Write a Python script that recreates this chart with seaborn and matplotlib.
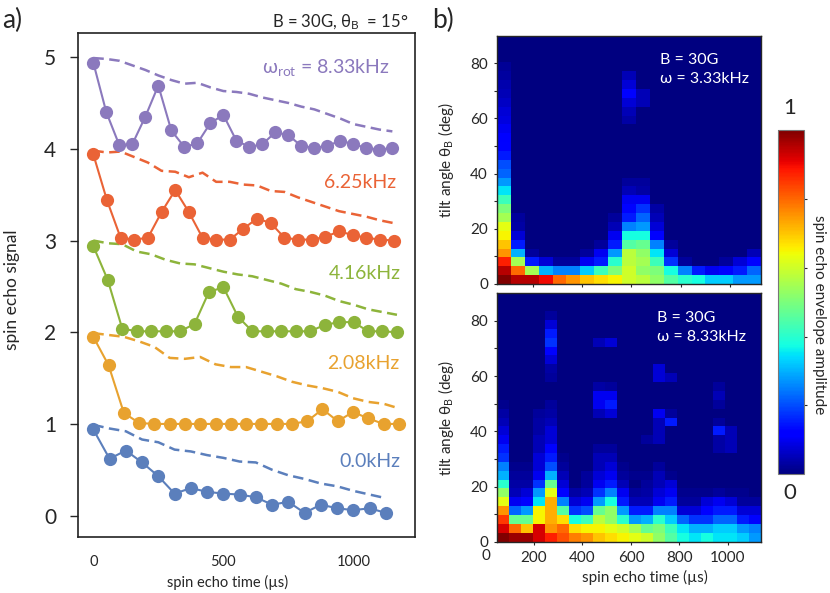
import numpy as np
import matplotlib
matplotlib.use("Agg")
import matplotlib.pyplot as plt
import seaborn as sns

# ---- panel a) spin echo signal vs time, one trace per rotation rate ----
t_blue = [0, 62.5, 125, 187.5, 250, 312.5, 375, 437.5, 500, 562.5, 625, 687.5,
          750, 812.5, 875, 937.5, 1000, 1062.5, 1125]
sig_blue = [0.94, 0.62, 0.71, 0.58, 0.43, 0.24, 0.30, 0.26, 0.24, 0.23, 0.20, 0.12,
            0.15, 0.03, 0.12, 0.08, 0.06, 0.08, 0.03]
env_blue = [0.99, 0.95, 0.92, 0.83, 0.80, 0.72, 0.70, 0.66, 0.63, 0.59, 0.58, 0.50,
            0.44, 0.40, 0.35, 0.32, 0.27, 0.23, 0.19]

t_orange = [0, 58.75, 117.5, 176.25, 235, 293.75, 352.5, 411.25, 470, 528.75, 587.5,
            646.25, 705, 763.75, 822.5, 881.25, 940, 998.75, 1057.5, 1116.25, 1175]
sig_orange = [1.95, 1.64, 1.12, 1.01, 1.00, 1.00, 1.00, 1.00, 1.00, 1.00, 1.00,
              1.00, 1.00, 1.00, 1.03, 1.16, 1.03, 1.13, 1.06, 1.00, 1.00]
env_orange = [1.99, 1.97, 1.95, 1.90, 1.84, 1.72, 1.71, 1.73, 1.65, 1.62, 1.62,
              1.57, 1.52, 1.46, 1.42, 1.39, 1.35, 1.28, 1.24, 1.22, 1.17]

t_green = [0, 55.6, 111.2, 166.8, 222.4, 278, 333.6, 389.2, 444.8, 500.4, 556,
           611.6, 667.2, 722.8, 778.4, 834, 889.6, 945.2, 1000.8, 1056.4, 1112, 1167.6]
sig_green = [2.94, 2.57, 2.04, 2.01, 2.01, 2.01, 2.01, 2.09, 2.44, 2.49, 2.17,
             2.01, 2.01, 2.01, 2.01, 2.01, 2.08, 2.11, 2.11, 2.01, 2.01, 2.00]
env_green = [3.00, 2.97, 2.96, 2.88, 2.85, 2.79, 2.75, 2.74, 2.70, 2.66, 2.63,
             2.61, 2.57, 2.53, 2.47, 2.44, 2.40, 2.34, 2.30, 2.25, 2.22, 2.19]

t_red = [0, 52.5, 105, 157.5, 210, 262.5, 315, 367.5, 420, 472.5, 525, 577.5,
         630, 682.5, 735, 787.5, 840, 892.5, 945, 997.5, 1050, 1102.5, 1155]
sig_red = [3.94, 3.44, 3.03, 3.01, 3.03, 3.31, 3.55, 3.31, 3.03, 3.01, 3.01, 3.13,
           3.24, 3.19, 3.03, 3.01, 3.01, 3.04, 3.10, 3.06, 3.03, 3.01, 3.00]
env_red = [3.98, 3.96, 3.97, 3.91, 3.85, 3.76, 3.75, 3.69, 3.74, 3.64, 3.64, 3.61,
           3.60, 3.54, 3.53, 3.47, 3.42, 3.37, 3.32, 3.29, 3.26, 3.22, 3.19]

t_purple = [0, 50, 100, 150, 200, 250, 300, 350, 400, 450, 500, 550, 600, 650,
            700, 750, 800, 850, 900, 950, 1000, 1050, 1100, 1150]
sig_purple = [4.94, 4.40, 4.04, 4.05, 4.35, 4.69, 4.20, 4.02, 4.06, 4.28, 4.37, 4.09,
              4.02, 4.05, 4.18, 4.15, 4.03, 4.01, 4.03, 4.09, 4.05, 4.01, 3.99, 4.01]
env_purple = [4.99, 4.98, 4.96, 4.91, 4.86, 4.80, 4.75, 4.71, 4.72, 4.67, 4.63, 4.62,
              4.60, 4.56, 4.53, 4.50, 4.46, 4.43, 4.38, 4.33, 4.27, 4.24, 4.21, 4.19]

rate_labels = ["0.0kHz", "2.08kHz", "4.16kHz", "6.25kHz",
               "\u03c9$_\\mathregular{rot}$ = 8.33kHz"]
rate_label_pos = [(1182, 0.59), (1177, 1.66), (1182, 2.64), (1163, 3.63), (1140, 4.89)]
colors = ["#5b7fbc", "#e8a22f", "#8db43b", "#ea6336", "#8b79bd"]

# ---- panel b) envelope amplitude maps (0..20 scale, rows from 0 deg upward) ----
amp_slow = [  # B = 30G, omega = 3.33kHz, 19 time bins
    [20, 19, 19, 18, 16, 15, 14, 13.5, 13, 12, 11.5, 10.5, 9, 8, 7.5, 6.5, 6.5, 5.5, 5.5],
    [19, 16, 11, 6, 5, 5, 6.5, 8.5, 10, 12, 10.5, 10, 7.5, 5, 3, 2, 2.5, 3, 4.5],
    [17.5, 11, 3, 1.5, .5, .5, 2, 3, 8, 11.5, 11, 8.5, 3.5, .5, 0, 0, .5, 1.5, 2.5],
    [15, 6, .5, 0, 0, 0, .5, 2, 5.5, 11.5, 10.5, 7, 1.5, 0, 0, 0, 0, 0, 1],
    [14, 3, 0, 0, 0, 0, 0, .5, 3, 9, 9.5, 5, .5, 0, 0, 0, 0, 0, 0],
    [13, 1.5, 0, 0, 0, 0, 0, 0, 2, 7.5, 7.5, 2.5, 0, 0, 0, 0, 0, 0, 0],
    [12.5, .7, 0, 0, 0, 0, 0, 0, 1, 5, 5.5, 1.5, 0, 0, 0, 0, 0, 0, 0],
    [11, .5, 0, 0, 0, 0, 0, 0, .5, 3, 4.5, 1, 0, 0, 0, 0, 0, 0, 0],
    [10, 0, 0, 0, 0, 0, 0, 0, 0, 2.5, 3.5, .7, 0, 0, 0, 0, 0, 0, 0],
    [8.5, 0, 0, 0, 0, 0, 0, 0, 0, 2, 2, 0, 0, 0, 0, 0, 0, 0, 0],
    [7, 0, 0, 0, 0, 0, 0, 0, 0, 1, .7, 0, 0, 0, 0, 0, 0, 0, 0],
    [5.5, 0, 0, 0, 0, 0, 0, 0, 0, .5, .5, 0, 0, 0, 0, 0, 0, 0, 0],
    [4.5, 0, 0, 0, 0, 0, 0, 0, 0, 0, 0, 0, 0, 0, 0, 0, 0, 0, 0],
    [4, 0, 0, 0, 0, 0, 0, 0, 0, 0, 0, 0, 0, 0, 0, 0, 0, 0, 0],
    [3, 0, 0, 0, 0, 0, 0, 0, 0, 0, 0, 0, 0, 0, 0, 0, 0, 0, 0],
    [2.5, 0, 0, 0, 0, 0, 0, 0, 0, 0, 0, 0, 0, 0, 0, 0, 0, 0, 0],
    [2.2, 0, 0, 0, 0, 0, 0, 0, 0, 0, 0, 0, 0, 0, 0, 0, 0, 0, 0],
    [2, 0, 0, 0, 0, 0, 0, 0, 0, 0, 0, 0, 0, 0, 0, 0, 0, 0, 0],
    [1.7, 0, 0, 0, 0, 0, 0, 0, 0, .7, 0, 0, 0, 0, 0, 0, 0, 0, 0],
    [1.5, 0, 0, 0, 0, 0, 0, 0, 0, 1, 0, 0, 0, 0, 0, 0, 0, 0, 0],
    [1.2, 0, 0, 0, 0, 0, 0, 0, 0, 1.5, 1, 0, 0, 0, 0, 0, 0, 0, 0],
    [1, 0, 0, 0, 0, 0, 0, 0, 0, 2.5, 1, 0, 0, 0, 0, 0, 0, 0, 0],
    [.8, 0, 0, 0, 0, 0, 0, 0, 0, 1.5, 0, 0, 0, 0, 0, 0, 0, 0, 0],
    [.6, 0, 0, 0, 0, 0, 0, 0, 0, 1, 0, 0, 0, 0, 0, 0, 0, 0, 0],
    [.4, 0, 0, 0, 0, 0, 0, 0, 0, 0, 0, 0, 0, 0, 0, 0, 0, 0, 0],
    [0, 0, 0, 0, 0, 0, 0, 0, 0, 0, 0, 0, 0, 0, 0, 0, 0, 0, 0],
    [0, 0, 0, 0, 0, 0, 0, 0, 0, 0, 0, 0, 0, 0, 0, 0, 0, 0, 0],
    [0, 0, 0, 0, 0, 0, 0, 0, 0, 0, 0, 0, 0, 0, 0, 0, 0, 0, 0],
]

amp_fast = [  # B = 30G, omega = 8.33kHz, 22 time bins
    [20, 19.5, 19.5, 18.5, 17.5, 16.5, 15.5, 15, 14, 13.5, 13, 12.5, 12, 10.5, 9, 7.5, 7, 7.5, 7, 7, 6.5, 5.5],
    [18.5, 16, 14, 18.5, 15, 16, 13.5, 13, 13, 12.5, 12, 11, 9.5, 10, 8.5, 7, 6, 6, 6.5, 6.5, 5.5, 5],
    [17, 9.5, 9.5, 13, 14.5, 13.5, 7.5, 8.5, 11.5, 10.5, 8, 5.5, 6, 8, 6.5, 4.5, 3.5, 3.5, 4.5, 4.5, 3, 2.5],
    [15, 4.5, 5.5, 13, 14.5, 9, 3.5, 4, 9.5, 10.5, 5.5, 3, 3, 5, 5, 1.5, 1.5, 2.5, 3, 3, 1.5, 1.5],
    [12.5, 2, 2.5, 7, 14.5, 5, 1.5, 2, 5.5, 7.5, 3, 1, 1, 2, 3, .5, .5, 1.5, 2, 1.5, .5, .5],
    [10.5, 1, 1.5, 5.5, 12.5, 2.5, .7, 1, 3.5, 5, 2, .5, .7, 1.5, 2, .3, .3, .3, .5, .3, .3, 0],
    [8, .7, .7, 3.5, 9.5, 1.5, 0, .5, 2, 3, 1, 0, .5, 1, 1.5, 0, 0, 0, 0, 0, 0, 0],
    [6, .5, .5, 2, 6, 1, 0, .5, 1.5, 2, .5, .3, .3, 1, .3, 0, 0, 0, 0, 0, 0, 0],
    [5, .3, .3, 1.5, 4, .5, 0, 0, 1, 1.5, .3, 0, 0, .5, 0, 0, 0, 0, 0, 0, 0, 0],
    [3.5, 0, 0, 1.5, 3, .3, 0, 0, 1, 1, 0, 0, 0, 0, 0, 0, 0, 0, 0, 0, 0, 0],
    [3, 0, 0, 1, 2.5, 0, 0, 0, .5, .5, 0, 0, 0, 0, 0, 0, 0, 0, .7, 1, 0, 0],
    [2, 0, 0, 1, 1.5, 0, 0, 0, 0, 0, 0, 0, .5, 1, 0, 0, 0, 0, .7, 1, 0, 0],
    [1.5, 0, 0, .7, 1.5, 0, 0, 0, 0, 0, 0, 0, 0, 1, 0, 0, 0, 0, 3, 1, 0, 0],
    [1, 0, 0, .7, 1, 0, 0, 0, 0, 0, 0, 0, 0, 1, 3, 0, 0, 0, .5, 0, 0, 0],
    [.7, 0, 0, .5, .7, 0, 0, 0, 1, 1.5, 0, 0, 0, 2, .5, 0, 0, 0, 0, 0, 0, 0],
    [.3, 0, 0, 0, .5, 0, 0, 0, 2, 3, 0, 0, 0, 0, 0, 0, 0, 0, .5, 0, 0, 0],
    [0, 0, 0, 0, 0, 0, 0, 0, 2, 2, 0, 0, 0, 0, 0, 0, 0, 0, 1, 0, 0, 0],
    [0, 0, 0, 0, 0, 0, 0, 0, .7, .5, 0, 0, 0, 0, 0, 0, 0, 0, .5, 0, 0, 0],
    [0, 0, 0, 0, .5, 0, 0, 0, 0, 0, 0, 0, 0, 1.5, 1, 0, 0, 0, 0, 0, 0, 0],
    [0, 0, 0, 0, .7, 0, 0, 0, 0, 0, 0, 0, 0, 1.5, 0, 0, 0, 0, 0, 0, 0, 0],
    [0, 0, 0, 0, 1.5, 0, 0, 0, 0, 0, 0, 0, 0, 0, 0, 0, 0, 0, 0, 0, 0, 0],
    [0, 0, 0, 0, 2.5, 0, 0, 0, 0, 0, 0, 0, 0, 0, 0, 0, 0, 0, 0, 0, 0, 0],
    [0, 0, 0, 0, 3.5, 0, 0, 0, 1, 1.5, 0, 0, 0, 0, 0, 0, 0, 0, 0, 0, 0, 0],
    [0, 0, 0, 0, 3, 0, 0, 0, 0, 0, 0, 0, 0, 0, 0, 0, 0, 0, 0, 0, 0, 0],
    [0, 0, 0, 0, 1.5, 0, 0, 0, 0, 0, 0, 0, 0, 0, 0, 0, 0, 0, 0, 0, 0, 0],
    [0, 0, 0, 0, .5, 0, 0, 0, 0, 0, 0, 0, 0, 0, 0, 0, 0, 0, 0, 0, 0, 0],
    [0, 0, 0, 0, 0, 0, 0, 0, 0, 0, 0, 0, 0, 0, 0, 0, 0, 0, 0, 0, 0, 0],
    [0, 0, 0, 0, 0, 0, 0, 0, 0, 0, 0, 0, 0, 0, 0, 0, 0, 0, 0, 0, 0, 0],
]
map_text = ["B = 30G\n\u03c9 = 3.33kHz", "B = 30G\n\u03c9 = 8.33kHz"]

sns.set_style("ticks")
plt.rcParams['font.family'] = ['Lato', 'DejaVu Sans']
plt.rcParams['mathtext.default'] = 'regular'

fig = plt.figure(figsize=(8.3, 5.93), dpi=100)

# ---------------- panel a ----------------
ax = fig.add_axes([0.0936, 0.0949, 0.4064, 0.849])
series = [(t_blue, sig_blue, env_blue), (t_orange, sig_orange, env_orange),
          (t_green, sig_green, env_green), (t_red, sig_red, env_red),
          (t_purple, sig_purple, env_purple)]
for (t, sig, env), c, lab, (lx, ly) in zip(series, colors, rate_labels, rate_label_pos):
    sns.lineplot(x=t, y=env, color=c, linewidth=1.8, ax=ax)
    ax.lines[-1].set_dashes([4.2, 2.2])
    sns.lineplot(x=t, y=sig, color=c, linewidth=1.5, marker='o', markersize=9.5,
                 markeredgewidth=0, ax=ax)
    ax.text(lx, ly, lab, color=c, fontsize=14, ha='right', va='center')

ax.set_xlim(-60, 1237)
ax.set_ylim(-0.23, 5.26)
ax.set_xticks([0, 500, 1000])
ax.set_yticks([0, 1, 2, 3, 4, 5])
ax.tick_params(axis='y', labelsize=15, length=5.5, width=1, pad=10)
ax.tick_params(axis='x', labelsize=10.5, length=0, pad=13)
for s in ax.spines.values():
    s.set_linewidth(1.2)
    s.set_color('#222222')
ax.set_xlabel("spin echo time (\u00b5s)", fontsize=10.5)
ax.xaxis.set_label_coords(0.445, -0.075)
ax.set_ylabel("spin echo signal", fontsize=12.5)
ax.yaxis.set_label_coords(-0.172, 0.49)

fig.text(0.002, 1 - 20 / 593, "a)", fontsize=19, ha='left', va='center')
fig.text(408 / 830, 1 - 22 / 593, "B = 30G, \u03b8$_\\mathregular{B}$  = 15\u00b0",
         fontsize=12, ha='right', va='center')
fig.text(432 / 830, 1 - 20 / 593, "b)", fontsize=19, ha='left', va='center')

# ---------------- panel b ----------------
ang_edges = np.linspace(0, 90, 29)
t_edges = [np.linspace(56.25, 1125, 20), np.linspace(47.5, 1136.5, 23)]
maps = [amp_slow, amp_fast]
boxes = [[0.5988, 0.5211, 0.3181, 0.4187], [0.5988, 0.0865, 0.3181, 0.4189]]
text_pos = [(0.617, 0.93), (0.605, 0.927)]

for i in range(2):
    hx = fig.add_axes(boxes[i])
    mesh = hx.pcolormesh(t_edges[i], ang_edges, np.array(maps[i]) / 20.0,
                         cmap='jet', vmin=0, vmax=1, shading='flat')
    hx.set_xlim(t_edges[i][0], t_edges[i][-1])
    hx.set_ylim(0, 90)
    hx.set_xticks([200, 400, 600, 800, 1000])
    hx.set_yticks([0, 20, 40, 60, 80])
    hx.set_yticks([10, 30, 50, 70], minor=True)
    hx.tick_params(which='both', direction='out', length=2.5, width=0.8,
                   labelsize=11, pad=4)
    for s in hx.spines.values():
        s.set_linewidth(1)
    hx.set_ylabel("tilt angle \u03b8$_\\mathregular{B}$ (deg)", fontsize=11)
    hx.yaxis.set_label_coords(-0.155, 0.5)
    tx, ty = text_pos[i]
    hx.text(tx, ty, map_text[i], transform=hx.transAxes, color='white',
            fontsize=11.5, ha='left', va='top', linespacing=1.45)
    if i == 0:
        hx.set_xticklabels([])
    else:
        hx.set_xlabel("spin echo time (\u00b5s)", fontsize=11)
        hx.xaxis.set_label_coords(0.56, -0.115)
        hx.text(0, -0.03, "0", transform=hx.get_xaxis_transform(), fontsize=11,
                ha='center', va='top', clip_on=False)

cax = fig.add_axes([0.9377, 0.2002, 0.031, 0.5806])
cbar = fig.colorbar(mesh, cax=cax, ticks=[0.2, 0.4, 0.6, 0.8])
cbar.ax.set_yticklabels([])
cbar.ax.tick_params(length=2.5, width=0.8, direction='out')
cbar.outline.set_linewidth(0.8)
cbar.outline.set_edgecolor('#777777')
fig.text(790 / 830, 1 - 108 / 593, "1", fontsize=16, ha='center', va='center')
fig.text(790 / 830, 1 - 493 / 593, "0", fontsize=16, ha='center', va='center')
fig.text(819 / 830, 1 - 315 / 593, "spin echo envelope amplitude", fontsize=11,
         rotation=270, ha='center', va='center')

fig.savefig("out.png", dpi=100)
